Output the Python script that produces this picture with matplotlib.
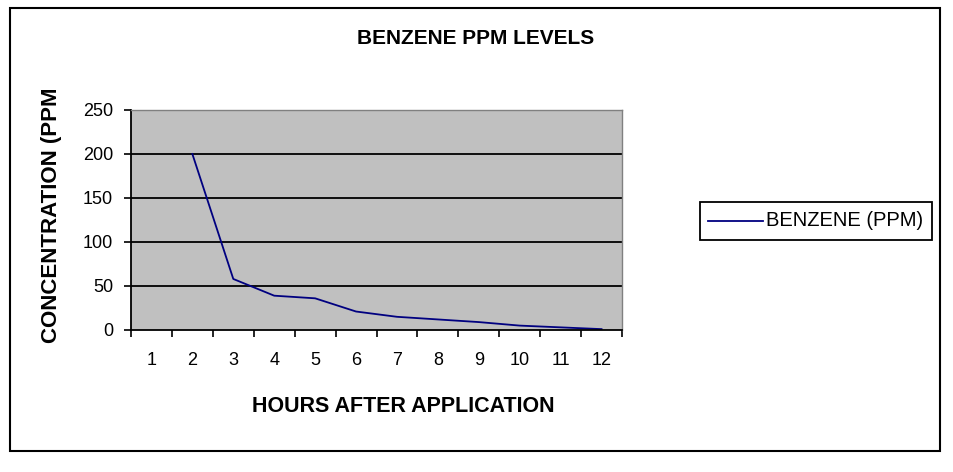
import numpy as np
import matplotlib
matplotlib.use("Agg")
import matplotlib.pyplot as plt
from matplotlib.patches import Rectangle
from matplotlib.lines import Line2D

# ── Data ─────────────────────────────────────────────────────────────────────
hours   = [1, 2, 3, 4, 5, 6, 7, 8, 9, 10, 11, 12]
benzene = [np.nan, 200, 58, 39, 36, 21, 15, 12, 9, 5, 3, 1]
y_ticks = [0, 50, 100, 150, 200, 250]

FONT = ['Liberation Sans', 'DejaVu Sans']

fig = plt.figure(figsize=(9.54, 4.72), dpi=100)
fig.patch.set_facecolor('white')

# outer chart frame
fig.patches.append(Rectangle((10/954, 1 - 451/472), 930/954, 443/472,
                             transform=fig.transFigure, fill=False,
                             edgecolor='black', linewidth=1.5))

ax = fig.add_axes([131/954, 1 - 330/472, 491/954, 220/472])
ax.set_facecolor('#C0C0C0')
ax.plot(hours, benzene, color='#000080', linewidth=1.3)

ax.set_xlim(0.5, 12.5)
ax.set_ylim(0, 250)
ax.set_yticks(y_ticks)
ax.set_yticklabels([str(v) for v in y_ticks], family=FONT, fontsize=13)
ax.set_xticks(np.arange(0.5, 13.0, 1.0))
ax.set_xticklabels([])
ax.set_xticks(hours, minor=True)
ax.set_xticklabels([str(h) for h in hours], minor=True, family=FONT, fontsize=13)
ax.tick_params(axis='x', which='major', direction='out', length=5, width=1.2, color='black')
ax.tick_params(axis='x', which='minor', length=0, pad=16)
ax.tick_params(axis='y', direction='out', length=5, width=1.2, color='black', pad=8)

for v in y_ticks[1:-1]:
    ax.axhline(v, color='black', linewidth=1.3, zorder=1)

for side in ['top', 'right']:
    ax.spines[side].set_color('#808080')
    ax.spines[side].set_linewidth(1)
for side in ['left', 'bottom']:
    ax.spines[side].set_color('black')
    ax.spines[side].set_linewidth(1.3)

fig.text(476/954, 1 - 38/472, 'BENZENE PPM LEVELS', ha='center', va='center',
         family=FONT, fontweight='bold', fontsize=15)
fig.text(403/954, 1 - 406/472, 'HOURS AFTER APPLICATION', ha='center', va='center',
         family=FONT, fontweight='bold', fontsize=15.5)
fig.text(52/954, 1 - 215/472, 'CONCENTRATION (PPM', ha='center', va='center',
         rotation=90, family=FONT, fontweight='bold', fontsize=16)

# legend box
fig.patches.append(Rectangle((700/954, 1 - 240/472), 232/954, 38/472,
                             transform=fig.transFigure, fill=False,
                             edgecolor='black', linewidth=1.3))
fig.lines.append(Line2D([708/954, 763/954], [1 - 221/472, 1 - 221/472],
                        transform=fig.transFigure, color='#000080', linewidth=1.3))
fig.text(766/954, 1 - 221/472, 'BENZENE (PPM)', ha='left', va='center',
         family=FONT, fontsize=14.5)

fig.savefig('out.png', dpi=100)
